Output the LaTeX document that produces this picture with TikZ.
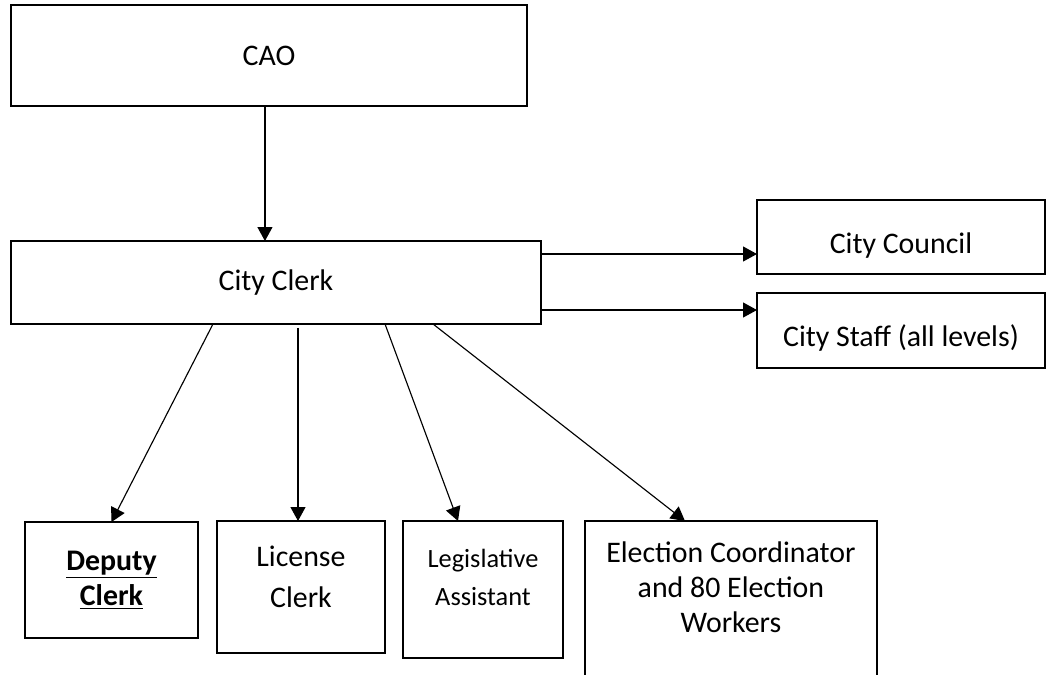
\documentclass[tikz,border=0pt]{standalone}
\usepackage{fontspec}
\setmainfont{Carlito}
\usetikzlibrary{calc,arrows.meta}
\tikzstyle{boite} = [rectangle, draw=black, line width=0.75pt, inner sep=0pt, outer sep=0pt, align=center, anchor=north west, font=\fontsize{17}{20}\selectfont]
\tikzstyle{haut} = [anchor=north, align=center, inner sep=0pt, font=\fontsize{17}{20}\selectfont]
\tikzstyle{fleche} = [line width=0.65pt, -{Triangle[length=0.28cm, width=0.3cm]}]

\begin{document}
\begin{tikzpicture}[x=0.02cm, y=-0.02cm]

        \useasboundingbox (0,0) rectangle (1052,674);
        \clip (0,0) rectangle (1052,674);

        %% top of the chart
        \node (cao) [boite, minimum width=10.32cm, minimum height=2.02cm] at (11,5) {CAO};
        \node (clerk) [boite, minimum width=10.6cm, minimum height=1.66cm] at (11,241) {City Clerk};

        \node (council) [boite, minimum width=5.76cm, minimum height=1.48cm,
            label={[haut, yshift=-0.64cm]north:City Council}] at (757,200) {};
        \node (staff) [boite, minimum width=5.76cm, minimum height=1.5cm,
            label={[haut, yshift=-0.62cm]north:City Staff (all levels)}] at (757,293) {};

        %% staff under the clerk
        \node (deputy) [boite, minimum width=3.46cm, minimum height=2.32cm] at (25,522) {\textbf{\underline{Deputy}}\\\textbf{\underline{Clerk}}};
        \node (license) [boite, minimum width=3.36cm, minimum height=2.64cm,
            label={[haut, yshift=-0.5cm, font=\fontsize{17}{23}\selectfont]north:License\\Clerk}] at (217,521) {};
        \node (legis) [boite, minimum width=3.2cm, minimum height=2.74cm,
            label={[haut, yshift=-0.56cm, font=\fontsize{15}{21.5}\selectfont]north:Legislative\\Assistant}] at (403,521) {};
        \node (election) [boite, minimum width=5.84cm, minimum height=4cm,
            label={[haut, yshift=-0.4cm]north:Election Coordinator\\and 80 Election\\Workers}] at (585,521) {};

        %% arrows
        \draw[fleche] ($(cao.south) + (-4,0)$) -- ($(cao.south |- clerk.north) + (-4,0)$);

        \coordinate (d1) at ($(clerk.north east) + (0,13)$);
        \coordinate (d2) at ($(clerk.north east) + (0,69)$);
        \draw[fleche] (d1) -- (d1 -| council.west);
        \draw[fleche] (d2) -- (d2 -| staff.west);

        \draw[fleche] ($(clerk.south west) + (202,0)$) -- (deputy.north);
        \draw[fleche] ($(clerk.south west) + (287,4)$) -- ($(license.north west) + (81,0)$);
        \draw[fleche] ($(clerk.south west) + (374,0)$) -- ($(legis.north west) + (55,0)$);
        \draw[fleche] ($(clerk.south west) + (422,0)$) -- ($(election.north west) + (100,0)$);

\end{tikzpicture}
\end{document}
